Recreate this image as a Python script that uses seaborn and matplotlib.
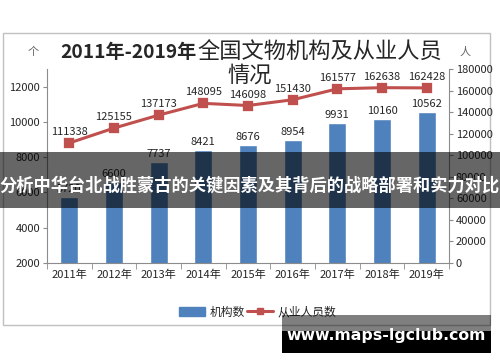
import matplotlib
matplotlib.use("Agg")
import matplotlib.pyplot as plt
from matplotlib.patches import Rectangle, Patch
from matplotlib.lines import Line2D
import seaborn as sns
import numpy as np

years = ['2011年', '2012年', '2013年', '2014年', '2015年', '2016年', '2017年', '2018年', '2019年']
orgs = [5720, 6600, 7737, 8421, 8676, 8954, 9931, 10160, 10562]
staff = [111338, 125155, 137173, 148095, 146098, 151430, 161577, 162638, 162428]

sns.set_style('white')
plt.rcParams['font.family'] = ['Noto Sans CJK SC', 'DejaVu Sans']

blue = '#4F81BD'
red = '#C0504D'
grey = '#8c8c8c'

fig = plt.figure(figsize=(5, 3.62), dpi=100)
ax = fig.add_axes([0.094, 0.2735, 0.804, 0.536])

sns.barplot(x=years, y=orgs, color=blue, width=0.4, saturation=1, ax=ax)
ax.set_ylim(2000, 13000)
ax.set_yticks(np.arange(2000, 12001, 2000))
ax.set_xlim(-0.5, 8.5)
for i, v in enumerate(orgs):
    ax.text(i, v + 180, str(v), ha='center', va='bottom', fontsize=8)

ax2 = ax.twinx()
sns.pointplot(x=years, y=staff, color=red, markers='s', markersize=6,
              linewidth=2.2, ax=ax2)
ax2.set_ylim(0, 180000)
ax2.set_yticks(np.arange(0, 180001, 20000))
ax2.set_xlim(-0.5, 8.5)
for i, v in enumerate(staff):
    ax2.text(i, v + 5500, str(v), ha='center', va='bottom', fontsize=8)

for a in (ax, ax2):
    for s in a.spines.values():
        s.set_visible(False)
    a.set_xlabel('')
    a.set_ylabel('')
    a.tick_params(axis='y', labelsize=8, length=3, color=grey, direction='out', pad=2)
ax.spines['left'].set_visible(True)
ax.spines['left'].set_color(grey)
ax.spines['bottom'].set_visible(True)
ax.spines['bottom'].set_color(grey)
ax2.spines['right'].set_visible(True)
ax2.spines['right'].set_color(grey)
ax.tick_params(axis='y', left=True)
ax2.tick_params(axis='y', right=True)
ax.tick_params(axis='x', labelsize=8, length=0, pad=5)
ax.set_xticks(np.arange(-0.5, 9, 1), minor=True)
ax.tick_params(axis='x', which='minor', length=4, color=grey, bottom=True)

# chart frame
fig.patches.append(Rectangle((0.006, 0.102), 0.974, 0.807, transform=fig.transFigure,
                             fill=False, edgecolor='#c0c0c0', lw=1, zorder=-1))

# title
fig.text(0.394, 0.856, '2011年-2019年', ha='right', va='center', fontsize=13.8,
         fontweight='bold')
fig.text(0.394, 0.856, '全国文物机构及从业人员', ha='left', va='center', fontsize=16)
fig.text(0.5, 0.793, '情况', ha='center', va='center', fontsize=16)
fig.text(0.066, 0.858, '个', ha='center', va='center', fontsize=8, color='#666666')
fig.text(0.93, 0.858, '人', ha='center', va='center', fontsize=8, color='#666666')

handles = [Patch(color=blue),
           Line2D([0], [0], color=red, lw=2.2, marker='s', markersize=5)]
fig.legend(handles, ['机构数', '从业人员数'], loc='center', bbox_to_anchor=(0.515, 0.138),
           ncol=2, frameon=False, fontsize=8.5, handlelength=2.2, columnspacing=0.2,
           handletextpad=0.4)

# overlay banner
fig.patches.append(Rectangle((0, 0.425), 1, 0.155, transform=fig.transFigure,
                             color='black', alpha=0.6, lw=0, zorder=10))
fig.text(0.5, 0.487, '分析中华台北战胜蒙古的关键因素及其背后的战略部署和实力对比',
         ha='center', va='center', fontsize=12.4, fontweight='bold', color='white',
         zorder=11)

# watermark
fig.patches.append(Rectangle((0.564, 0.025), 0.418, 0.061, transform=fig.transFigure,
                             color='black', lw=0, zorder=10))
fig.patches.append(Rectangle((0.564, 0.086), 0.418, 0.044, transform=fig.transFigure,
                             color='black', alpha=0.5, lw=0, zorder=10))
fig.text(0.772, 0.072, 'www.maps-lgclub.com', ha='center', va='center', fontsize=11.3,
         fontweight='bold', color='white', family='DejaVu Sans', zorder=11)

fig.savefig('out.png', dpi=100)
